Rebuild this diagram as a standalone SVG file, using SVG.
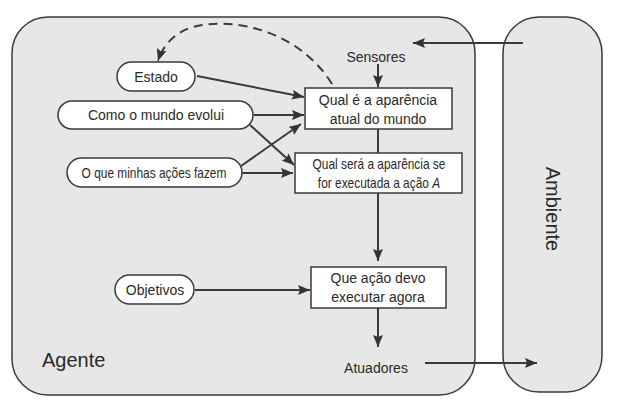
<svg xmlns="http://www.w3.org/2000/svg" width="629" height="401" viewBox="0 0 629 401">
<style>
.frame{fill:#e7e7e7;stroke:#3a3a3a;stroke-width:1.5}
.box{fill:#ffffff;stroke:#3a3a3a;stroke-width:1.5}
.pill{fill:#ffffff;stroke:#3a3a3a;stroke-width:1.5}
.t{font-family:"Liberation Sans",Arial,sans-serif;font-size:14px;fill:#2a2a2a;text-anchor:middle}
.tc{font-family:"Liberation Sans",Arial,sans-serif;font-size:14px;fill:#2a2a2a;text-anchor:middle}
.big{font-family:"Liberation Sans",Arial,sans-serif;font-size:20px;fill:#2a2a2a}
.c{fill:none;stroke:#3a3a3a;stroke-width:2}
.d{fill:none;stroke:#3a3a3a;stroke-width:2;stroke-dasharray:9 6}
</style>
<defs>
<marker id="ah" viewBox="0 0 12 10" refX="12" refY="5" markerWidth="12" markerHeight="10" markerUnits="userSpaceOnUse" orient="auto">
<path d="M0,0 L12,5 L0,10 L2,5 Z" fill="#333333"/>
</marker>
</defs>
<rect width="629" height="401" fill="#ffffff"/>
<g id="agente">
<rect class="frame" x="12" y="17" width="463" height="378" rx="36" ry="36"/>
<text class="big" x="42" y="367">Agente</text>
</g>
<g id="ambiente">
<rect class="frame" x="503" y="17" width="99" height="375" rx="36" ry="36"/>
<text class="big" x="0" y="0" text-anchor="middle" transform="translate(546,209) rotate(90)">Ambiente</text>
</g>
<g id="sensores"><text class="t" x="376" y="62">Sensores</text></g>
<g id="atuadores"><text class="t" x="376" y="373">Atuadores</text></g>
<g id="estado">
<rect class="pill" x="117" y="62" width="78" height="29" rx="14.5"/>
<text class="t" x="156" y="82">Estado</text>
</g>
<g id="como">
<rect class="pill" x="58" y="101" width="195" height="28" rx="14"/>
<text class="t" x="156" y="120">Como o mundo evolui</text>
</g>
<g id="oque">
<rect class="pill" x="67" y="158" width="175" height="29" rx="14.5"/>
<text class="tc" x="0" y="0" transform="translate(154,178) scale(0.85,1)">O que minhas ações fazem</text>
</g>
<g id="objetivos">
<rect class="pill" x="115" y="275" width="79" height="29" rx="14.5"/>
<text class="t" x="155" y="295">Objetivos</text>
</g>
<g id="atual">
<rect class="box" x="305" y="88" width="147" height="41"/>
<text class="t" x="378" y="105">Qual é a aparência</text>
<text class="t" x="378" y="124">atual do mundo</text>
</g>
<g id="sera">
<rect class="box" x="295" y="153" width="167" height="40"/>
<text class="tc" x="0" y="0" transform="translate(379,169) scale(0.85,1)">Qual será a aparência se</text>
<text class="tc" x="0" y="0" transform="translate(379,188) scale(0.85,1)">for executada a ação <tspan font-style="italic">A</tspan></text>
</g>
<g id="acao">
<rect class="box" x="311" y="267" width="135" height="41"/>
<text class="t" x="378" y="283">Que ação devo</text>
<text class="t" x="378" y="302">executar agora</text>
</g>
<g id="connectors">
<path class="c" d="M523,43 L413,43" marker-end="url(#ah)"/>
<path class="c" d="M378,64 L378,87" marker-end="url(#ah)"/>
<path class="c" d="M378,129 L378,153"/>
<path class="c" d="M378,193 L378,261" marker-end="url(#ah)"/>
<path class="c" d="M378,308 L378,347" marker-end="url(#ah)"/>
<path class="c" d="M425,363 L537,363" marker-end="url(#ah)"/>
<path class="c" d="M197,76 L304,97" marker-end="url(#ah)"/>
<path class="c" d="M254,115 L304,115" marker-end="url(#ah)"/>
<path class="c" d="M250,125 L294,165" marker-end="url(#ah)"/>
<path class="c" d="M241,166 L301,124" marker-end="url(#ah)"/>
<path class="c" d="M242,173 L293,173" marker-end="url(#ah)"/>
<path class="c" d="M195,290 L310,290" marker-end="url(#ah)"/>
<path class="d" d="M332,84 C300,32 235,16 193,27 C175,32 163,45 158,61" marker-end="url(#ah)"/>
</g>
</svg>
